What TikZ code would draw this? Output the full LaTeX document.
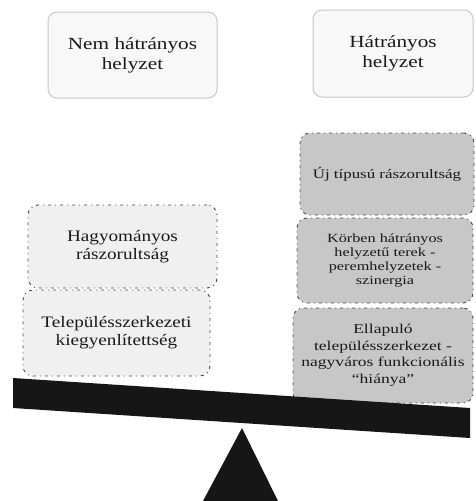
\documentclass[tikz,border=0pt]{standalone}
\usepackage{fontspec}
\setmainfont{Liberation Serif}
\newfontfamily\fA[FakeStretch=1.2]{Liberation Serif}
\newfontfamily\fB[FakeStretch=1.3]{Liberation Serif}
\newfontfamily\fC[FakeStretch=1.25]{Liberation Serif}
\definecolor{topfill}{RGB}{248,248,248}
\definecolor{topline}{RGB}{200,200,200}
\definecolor{lightbox}{RGB}{240,240,240}
\definecolor{darkbox}{RGB}{199,199,199}
\definecolor{dotline}{RGB}{70,70,70}
\definecolor{beamcol}{RGB}{22,22,22}
\tikzset{
  topbox/.style={draw=topline, line width=1pt, fill=topfill, rounded corners=9pt,
    align=center, inner sep=0pt, text=black!90,
    font={\fC\fontsize{17}{20}\selectfont}},
  lowbox/.style={draw=dotline, line width=0.9pt,
    dash pattern=on 3pt off 4pt on 1pt off 4pt, rounded corners=10pt,
    align=center, inner sep=0pt, text=black!90},
  leftbox/.style={lowbox, fill=lightbox, font={\fA\fontsize{16}{18}\selectfont}},
  rightbox/.style={lowbox, fill=darkbox},
}
\begin{document}
\begin{tikzpicture}[x=1pt,y=-1pt]
\useasboundingbox (0,0) rectangle (475,501);
\fill[white] (0,0) rectangle (475,501);
% top boxes
\node[topbox, minimum width=169pt, minimum height=86pt] (topL) at (132.5,55)
  {Nem hátrányos\\ helyzet};
\node[topbox, minimum width=160pt, minimum height=87pt] (topR) at (393,53.5)
  {Hátrányos\\ helyzet};
% left stack
\node[leftbox, minimum width=189pt, minimum height=83pt] (hag) at (122.5,246.5)
  {Hagyományos\\ rászorultság};
\node[leftbox, minimum width=187pt, minimum height=86pt] (tel) at (116.5,333)
  {Településszerkezeti\\ kiegyenlítettség};
% right stack
\node[rightbox, minimum width=174pt, minimum height=82pt, font={\fB\fontsize{13}{14}\selectfont}] (uj) at (387,174)
  {Új típusú rászorultság};
\node[rightbox, minimum width=176pt, minimum height=85pt, font={\fB\fontsize{12.5}{14}\selectfont}] (koz) at (385,260.5)
  {Körben hátrányos\\ helyzetű terek -\\ peremhelyzetek -\\ szinergia};
\node[rightbox, minimum width=180pt, minimum height=95pt, font={\fB\fontsize{13.5}{16.5}\selectfont}] (ell) at (383,355.5)
  {Ellapuló\\ településszerkezet -\\ nagyváros funkcionális\\ “hiánya”};
% beam and fulcrum
\fill[beamcol] (13,378) -- (470,408) -- (470,438) -- (13,408) -- cycle;
\fill[beamcol] (242,428) -- (278,501) -- (203,501) -- cycle;
\end{tikzpicture}
\end{document}
